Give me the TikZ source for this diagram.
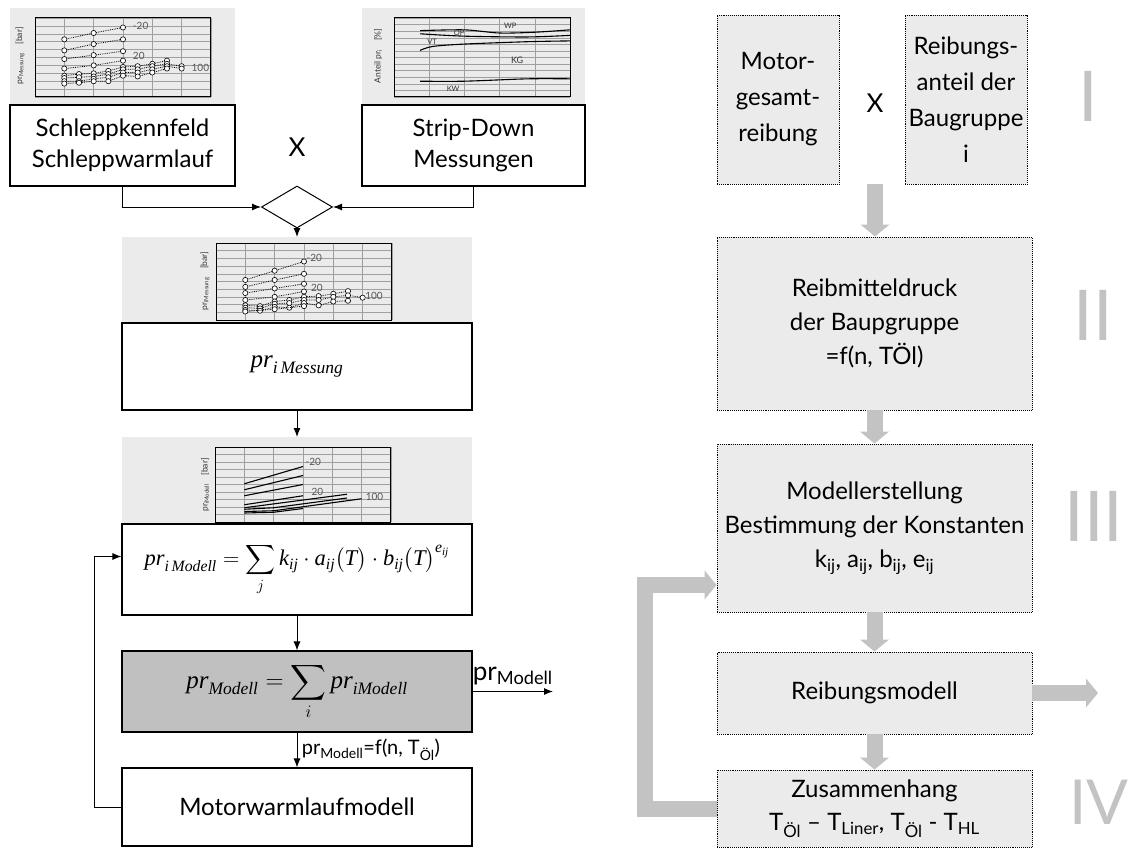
\RequirePackage{fix-cm}
\documentclass[tikz,border=0pt]{standalone}
\usepackage{exscale}
\usepackage{amsmath}
\usepackage[no-math]{fontspec}
\setmainfont{Lato}
\newfontfamily\tms{Liberation Serif}
\newcommand\ti[1]{\text{\tms\itshape #1}}
\usetikzlibrary{arrows.meta,shapes.geometric,calc}
\definecolor{panelgray}{HTML}{EBEBEB}
\definecolor{boxgray}{HTML}{C0C0C0}
\definecolor{blockgray}{HTML}{C3C3C3}
\definecolor{labgray}{HTML}{555555}
\begin{document}
\begin{tikzpicture}[x=1pt,y=-1pt,
  panel/.style={fill=panelgray, draw=none, inner sep=0pt, outer sep=0pt},
  wbox/.style={draw=black, line width=1.1pt, fill=white, inner sep=0pt, align=center, font=\fontsize{24}{31}\selectfont},
  dbox/.style={draw=black, densely dotted, line width=0.9pt, fill=panelgray, inner sep=0pt, align=center, font=\fontsize{24}{36}\selectfont},
  conn/.style={draw=black, line width=1pt, -{Latex[length=9pt,width=7pt]}},
  blk/.style={draw=blockgray, line width=16pt, -{Triangle[length=12pt,width=29pt,line width=0pt]}},
  roman/.style={text=blockgray, font=\fontsize{70}{70}\selectfont, inner sep=0pt},
  gridl/.style={draw=gray!75, line width=0.5pt},
  frm/.style={draw=black, line width=1pt},
  dotser/.style={draw=black, line width=0.8pt, densely dotted, mark=*, mark size=2.6pt, mark options={solid, fill=white, draw=black, line width=0.6pt}},
  solser/.style={draw=black, line width=1.1pt},
  chlab/.style={text=labgray, font=\fontsize{10}{10}\selectfont, inner sep=1pt},
  cvlab/.style={text=black!80, font=\fontsize{7.5}{8}\selectfont, inner sep=0.5pt},
  axlab/.style={text=black!80, font=\fontsize{8.5}{9}\selectfont, rotate=90, inner sep=0pt},
  bigx/.style={font=\fontsize{26}{26}\selectfont, inner sep=0pt},
  mathf/.style={font=\fontsize{25}{28}\selectfont}
]
\useasboundingbox (0,0) rectangle (1132,848);

% ---------------- left column ----------------
\node[panel, minimum width=225pt, minimum height=97pt] (pA) at (122.5,56.5) {};
\node[panel, minimum width=223pt, minimum height=97pt] (pB) at (473.5,56.5) {};
\node[panel, minimum width=350pt, minimum height=86pt] (pC) at (297,280) {};
\node[panel, minimum width=350pt, minimum height=87pt] (pD) at (297,480.5) {};

% chart A (top left)
\begin{scope}[shift={(35,97)}, x=29.33pt, y=79pt]
\draw[gridl] (0,0) grid[xstep=1,ystep=0.1] (6,1);
\draw[frm] (0,0) rectangle (6,1);
\draw[dotser] plot coordinates {(1,.73) (2,.81) (3,.88)};
\draw[dotser] plot coordinates {(1,.59) (2,.67) (3,.73)};
\draw[dotser] plot coordinates {(1,.48) (2,.53) (3,.58)};
\draw[dotser] plot coordinates {(1,.36) (2,.40) (3,.46)};
\draw[dotser] plot coordinates {(1,.27) (1.5,.29) (2,.30) (2.5,.33) (3,.38) (3.5,.39) (4,.42) (4.5,.46)};
\draw[dotser] plot coordinates {(1,.24) (1.5,.25) (2,.26) (2.5,.29) (3,.35) (3.5,.35) (4,.39) (4.5,.42) (5,.39)};
\draw[dotser] plot coordinates {(1,.20) (1.5,.20) (2,.23) (2.5,.25) (3,.31) (3.5,.31) (4,.35) (4.5,.39) (5,.36)};
\draw[dotser] plot coordinates {(1,.17) (1.5,.18) (2,.20) (2.5,.20) (3,.27) (3.5,.26) (4,.31) (4.5,.36)};
\node[chlab, anchor=west] (la1) at (3.3,.90) {-20};
\node[chlab, anchor=west] (la2) at (3.3,.52) {20};
\node[chlab, anchor=west] (la3) at (5.3,.37) {100};
\end{scope}
\node[axlab] (ya1) at (20,56) {pr\textsubscript{Messung}\quad[bar]};

% chart D (top right)
\begin{scope}[shift={(394,97)}, x=35.2pt, y=79pt]
\draw[gridl] (0,0) grid[xstep=1,ystep=0.08333] (5,1);
\draw[frm] (0,0) rectangle (5,1);
\draw[solser] plot[smooth] coordinates {(0.74,.84) (2,.85) (3,.81) (4,.82) (5,.85)};
\draw[solser] plot[smooth] coordinates {(0.74,.80) (2,.77) (3.8,.76) (5,.78)};
\draw[solser] plot[smooth] coordinates {(0.74,.59) (1.1,.64) (2,.67) (3.8,.70) (5,.71)};
\draw[solser] plot[smooth] coordinates {(0.74,.20) (2,.20) (3.8,.23) (5,.23)};
\node[cvlab] (lwp) at (3.3,.90) {WP};
\node[cvlab] (lop) at (1.85,.81) {OP};
\node[cvlab] (lvt) at (1.08,.70) {VT};
\node[cvlab, font=\fontsize{9}{9}\selectfont] (lkg) at (3.5,.46) {KG};
\node[cvlab] (lkw) at (1.68,.10) {KW};
\end{scope}
\node[axlab] (ya4) at (378,56) {Anteil pr\textsubscript{i}\quad[\%]};

% chart B (middle)
\begin{scope}[shift={(216,320)}, x=29.33pt, y=77pt]
\draw[gridl] (0,0) grid[xstep=1,ystep=0.1] (6,1);
\draw[frm] (0,0) rectangle (6,1);
\draw[dotser] plot coordinates {(1,.52) (2,.64) (3,.76)};
\draw[dotser] plot coordinates {(1,.43) (2,.52) (3,.60)};
\draw[dotser] plot coordinates {(1,.35) (2,.41) (3,.47)};
\draw[dotser] plot coordinates {(1,.26) (2,.30) (3,.37)};
\draw[dotser] plot coordinates {(1,.19) (1.5,.18) (2,.24) (2.5,.26) (3,.30) (3.5,.31) (4,.34) (4.5,.375)};
\draw[dotser] plot coordinates {(1,.16) (1.5,.15) (2,.21) (2.5,.22) (3,.26) (3.5,.26) (4,.30) (4.5,.32) (5,.29)};
\draw[dotser] plot coordinates {(1,.13) (1.5,.12) (2,.17) (2.5,.16) (3,.22) (3.5,.19) (4,.24) (4.5,.25)};
\draw[dotser] plot coordinates {(1,.11) (2,.14) (3,.18)};
\node[chlab, anchor=west] (lb1) at (3.05,.81) {-20};
\node[chlab, anchor=west] (lb2) at (3.2,.42) {20};
\node[chlab, anchor=west] (lb3) at (5.05,.31) {100};
\end{scope}
\node[axlab] (ya2) at (205,281) {pr\textsubscript{iMessung}\quad[bar]};

% chart C (lines)
\begin{scope}[shift={(215,522)}, x=29.33pt, y=75pt]
\draw[gridl] (0,0) grid[xstep=1,ystep=0.1] (6,1);
\draw[frm] (0,0) rectangle (6,1);
\draw[solser] (1,.51) -- (3,.74);
\draw[solser] (1,.43) -- (3,.62);
\draw[solser] (1,.35) -- (3,.50);
\draw[solser] (1,.23) -- (3,.35);
\draw[solser] (1,.19) -- (4.5,.37);
\draw[solser] (1,.17) -- (2,.19) -- (4.5,.32);
\draw[solser] (1,.14) -- (2,.15) -- (5,.31);
\draw[solser] (1,.12) -- (2,.13) -- (3,.18);
\node[chlab, anchor=west] (lc1) at (3.05,.80) {-20};
\node[chlab, anchor=west] (lc2) at (3.25,.40) {20};
\node[chlab, anchor=west] (lc3) at (5.1,.33) {100};
\end{scope}
\node[axlab] (ya3) at (205,485) {pr\textsubscript{iModell}\quad[bar]};

% boxes
\node[wbox, minimum width=225pt, minimum height=81pt] (b1) at (122.5,145.5) {Schleppkennfeld\\Schleppwarmlauf};
\node[wbox, minimum width=223pt, minimum height=81pt] (b2) at (473.5,145.5) {Strip-Down\\Messungen};
\node[bigx] (xL) at (297,147) {X};
\node[draw=black, line width=1pt, diamond, minimum width=71pt, minimum height=42pt, inner sep=0pt, fill=white] (dia) at (297,207) {};
\node[wbox, mathf, minimum width=350pt, minimum height=87pt] (b3) at (297,366.5) {$\ti{pr}_{\ti{i\,Messung}}$};
\node[wbox, font=\fontsize{22.5}{26}\selectfont, minimum width=350pt, minimum height=91pt] (b4) at (297,569.5) {$\displaystyle \ti{pr}_{\ti{i\,Modell}} = \sum_j \ti{k}_{\ti{ij}}\cdot \ti{a}_{\ti{ij}}\bigl(\ti{T}\bigr)\cdot \ti{b}_{\ti{ij}}\bigl(\ti{T}\bigr)^{\ti{e}_{\ti{ij}}}$};
\node[wbox, mathf, fill=boxgray, minimum width=350pt, minimum height=81pt] (b5) at (297,691.5) {$\displaystyle \ti{pr}_{\ti{Modell}} = \sum_i \ti{pr}_{\ti{iModell}}$};
\node[wbox, minimum width=350pt, minimum height=78pt] (b6) at (297,807) {Motorwarmlaufmodell};

% connectors left
\draw[conn] (b1.south) |- (dia.west);
\draw[conn] (b2.south) |- (dia.east);
\draw[conn] (dia.south) -- (pC.north);
\draw[conn] (b3.south) -- (pD.north);
\draw[conn] (b4.south) -- (b5.north);
\draw[conn] (b5.south) -- node[right=1pt, font=\fontsize{20}{20}\selectfont] (lf) {pr\textsubscript{Modell}=f(n, T\textsubscript{Öl})} (b6.north);
\coordinate (out) at (553,691.5);
\draw[conn] (b5.east) -- node[above=3pt, font=\fontsize{26}{26}\selectfont] (lout) {pr\textsubscript{Modell}} (out);
\draw[conn] (b6.west) -- ++(-27,0) |- ($(b4.west)+(0,-13)$);

% ---------------- right column ----------------
\node[dbox, minimum width=122pt, minimum height=169pt] (r1) at (778,99.5) {Motor-\\gesamt-\\reibung};
\node[bigx] (xR) at (875,103) {X};
\node[dbox, minimum width=122pt, minimum height=169pt] (r2) at (966,99.5) {Reibungs-\\anteil der\\Baugruppe\\i};
\node[dbox, font=\fontsize{24}{34}\selectfont, minimum width=315pt, minimum height=173pt] (r3) at (874.5,323.5) {Reibmitteldruck\\der Baupgruppe\\=f(n, TÖl)};
\node[dbox, font=\fontsize{24}{34}\selectfont, minimum width=315pt, minimum height=168pt] (r4) at (874.5,528) {Modellerstellung\\Bestimmung der Konstanten\\k\textsubscript{ij}, a\textsubscript{ij}, b\textsubscript{ij}, e\textsubscript{ij}};
\node[dbox, minimum width=315pt, minimum height=82pt] (r5) at (874.5,693) {Reibungsmodell};
\node[dbox, font=\fontsize{24}{33}\selectfont, minimum width=315pt, minimum height=77pt] (r6) at (874.5,808.5) {Zusammenhang\\T\textsubscript{Öl} – T\textsubscript{Liner}, T\textsubscript{Öl} - T\textsubscript{HL}};

\draw[blk] (xR |- r1.south) -- (xR |- r3.north);
\draw[blk] (r3.south) -- (r4.north);
\draw[blk] (r4.south) -- (r5.north);
\draw[blk] (r5.south) -- (r6.north);
\coordinate (rout) at (1098,693);
\draw[blk] (r5.east) -- (rout);
\draw[blk, line join=miter] (r6.west) -- ++(-72,0) |- ($(r4.west)+(0,57)$);

\node[roman] (n1) at (1088,96) {I};
\node[roman] (n2) at (1093,315) {II};
\node[roman] (n3) at (1094,516) {III};
\node[roman, font=\fontsize{62}{62}\selectfont] (n4) at (1099,802) {IV};
\end{tikzpicture}
\end{document}
